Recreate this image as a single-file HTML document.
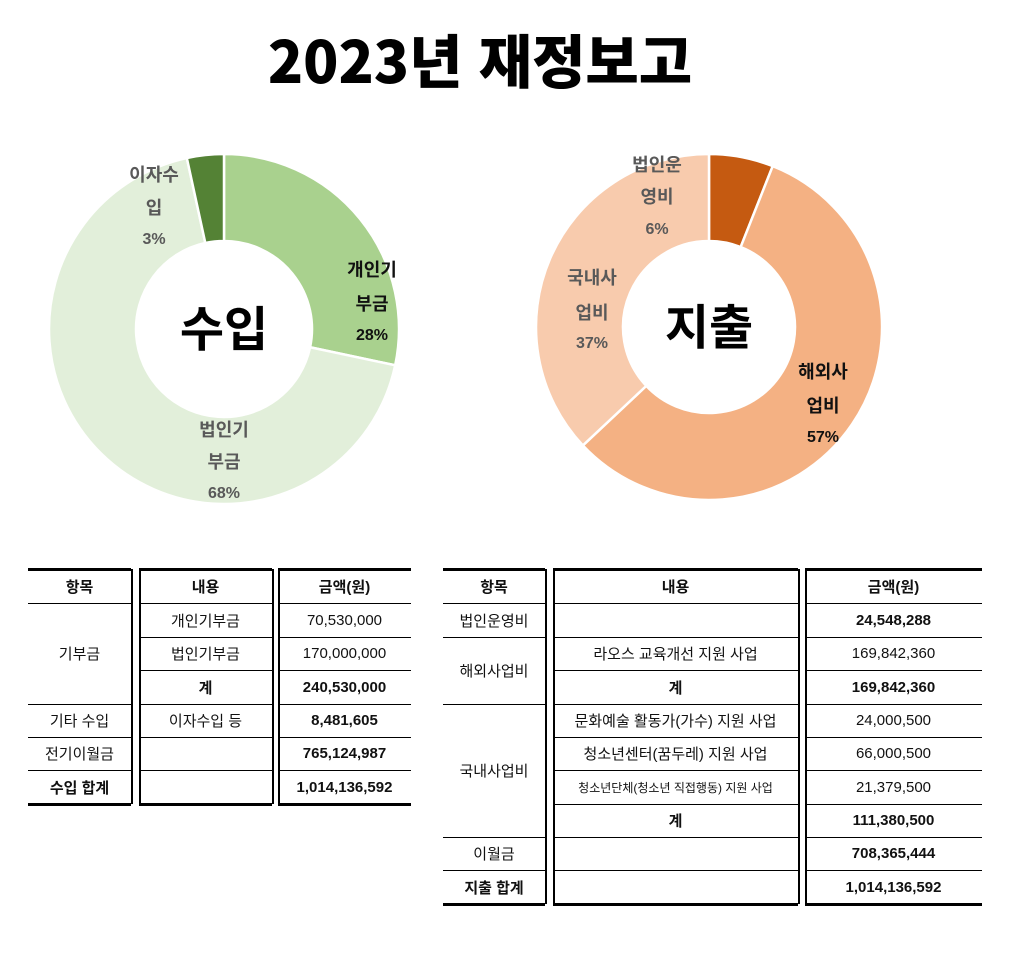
<!DOCTYPE html>
<html lang="ko"><head><meta charset="utf-8">
<style>
body{margin:0;width:1024px;height:959px;background:#fff;position:relative;overflow:hidden;font-family:"Liberation Sans","Noto Sans CJK KR",sans-serif;}
.t{position:absolute;white-space:nowrap;}
#title{left:0;width:960px;top:16px;text-align:center;font-size:58px;font-weight:900;letter-spacing:0px;color:#000;font-family:"Noto Sans CJK KR",sans-serif;}
.cell{position:absolute;display:flex;align-items:center;justify-content:center;font-size:15px;color:#111;}
.b{font-weight:bold;}
.ln{position:absolute;background:#000;}
</style></head><body>
<div id="title" class="t">2023년 재정보고</div>
<svg id="pies" width="1024" height="540" style="position:absolute;left:0;top:0"></svg>
<div id="tables"></div>
<script>
const incomeCats=["개인기부금","법인기부금","이자수입"];
const incomeVals=[70530000,170000000,8481605];
const expenseCats=["법인운영비","해외사업비","국내사업비"];
const expenseVals=[6,57,37];
const incomeColors=["#a9d18e","#e2efda","#548235"];
const expenseColors=["#c55a11","#f4b183","#f8cbad"];
const svg=document.getElementById('pies');
const NS="http://www.w3.org/2000/svg";
function donut(cx,cy,ro,ri,vals,cols,name,center){
  const tot=vals.reduce((a,b)=>a+b,0);let a0=-Math.PI/2;
  vals.forEach((v,i)=>{
    const a1=a0+v/tot*2*Math.PI;const lg=(a1-a0)>Math.PI?1:0;
    const p=(r,a)=>[cx+r*Math.cos(a),cy+r*Math.sin(a)];
    const [x0,y0]=p(ro,a0),[x1,y1]=p(ro,a1),[x2,y2]=p(ri,a1),[x3,y3]=p(ri,a0);
    const path=document.createElementNS(NS,'path');
    path.setAttribute('d',`M${x0},${y0}A${ro},${ro} 0 ${lg} 1 ${x1},${y1}L${x2},${y2}A${ri},${ri} 0 ${lg} 0 ${x3},${y3}Z`);
    path.setAttribute('fill',cols[i]);path.setAttribute('stroke','#fff');path.setAttribute('stroke-width','2.5');
    
    
    svg.appendChild(path);a0=a1;
  });
  const t=document.createElementNS(NS,'text');
  t.setAttribute('x',cx);t.setAttribute('y',cy+17);t.setAttribute('text-anchor','middle');
  t.setAttribute('font-size','48');t.setAttribute('font-weight','bold');t.setAttribute('font-family','"Noto Sans CJK KR",sans-serif');
  t.textContent=center;
  
  
  svg.appendChild(t);
}
donut(224,329,175,88,incomeVals,incomeColors,'income','수입');
donut(709,327,173,86,expenseVals,expenseColors,'expense','지출');
function pct(vals,i){const tot=vals.reduce((a,b)=>a+b,0);return Math.round(vals[i]/tot*100)+'%';}
const labels=[
 [372,[270,304,334],["개인기","부금",pct(incomeVals,0)],"#111"],
 [224,[430,462,492],["법인기","부금",pct(incomeVals,1)],"#595959"],
 [154,[175,208,238],["이자수","입",pct(incomeVals,2)],"#595959"],
 [657,[165,197,228],["법인운","영비",pct(expenseVals,0)],"#595959"],
 [592,[278,313,342],["국내사","업비",pct(expenseVals,2)],"#595959"],
 [823,[372,406,436],["해외사","업비",pct(expenseVals,1)],"#111"]];
labels.forEach((l,k)=>{l[2].forEach((s,j)=>{
  const t=document.createElementNS(NS,'text');
  t.setAttribute('x',l[0]);t.setAttribute('y',l[1][j]+6);t.setAttribute('text-anchor','middle');
  t.setAttribute('font-size',j==2?'16':'18');t.setAttribute('font-weight','bold');t.setAttribute('fill',l[3]);
  t.setAttribute('font-family','"Liberation Sans","Noto Sans CJK KR",sans-serif');
  t.textContent=s;
  
  
  svg.appendChild(t);});});

const T=document.getElementById('tables');
function line(x,y,w,h){const d=document.createElement('div');d.className='ln';d.style.cssText=`left:${x}px;top:${y}px;width:${w}px;height:${h}px`;
 
 
 T.appendChild(d);}
function cell(x,y,w,h,txt,bold,fs){const d=document.createElement('div');d.className='cell'+(bold?' b':'');
 d.style.cssText=`left:${x}px;top:${y}px;width:${w}px;height:${h}px`+(fs?`;font-size:${fs}px`:'');d.textContent=txt;
 
 
 T.appendChild(d);}
function table(cols,rowsY,cells,hlines){
  const top=rowsY[0],bot=rowsY[rowsY.length-1];
  cols.forEach(c=>{line(c[0],top-1,c[1]-c[0],3);line(c[0],bot-1,c[1]-c[0],3);});
  hlines.forEach(h=>{const c=cols[h[0]];line(c[0],rowsY[h[1]],c[1]-c[0],1);});
  line(cols[0][1],top,2,bot-top);line(cols[1][0],top,2,bot-top);line(cols[1][1],top,2,bot-top);line(cols[2][0],top,2,bot-top);
  cells.forEach(c=>{const co=cols[c[0]];cell(co[0],rowsY[c[1]],co[1]-co[0],rowsY[c[2]]-rowsY[c[1]],c[3],c[4],c[5]);});
}
const LY=[569,603,637,670,704,737,770,804];
table([[28,131],[139,272],[278,411]],LY,[
 [0,0,1,"항목",1],[1,0,1,"내용",1],[2,0,1,"금액(원)",1],
 [0,1,4,"기부금"],[1,1,2,"개인기부금"],[2,1,2,"70,530,000"],
 [1,2,3,"법인기부금"],[2,2,3,"170,000,000"],[1,3,4,"계",1],[2,3,4,"240,530,000",1],
 [0,4,5,"기타 수입"],[1,4,5,"이자수입 등"],[2,4,5,"8,481,605",1],
 [0,5,6,"전기이월금"],[2,5,6,"765,124,987",1],
 [0,6,7,"수입 합계",1],[2,6,7,"1,014,136,592",1]],
 [[0,1],[1,1],[2,1],[1,2],[2,2],[1,3],[2,3],[0,4],[1,4],[2,4],[0,5],[1,5],[2,5],[0,6],[1,6],[2,6]]);
const RY=[569,603,637,670,704,737,770,804,837,870,904];
table([[443,545],[553,798],[805,982]],RY,[
 [0,0,1,"항목",1],[1,0,1,"내용",1],[2,0,1,"금액(원)",1],
 [0,1,2,"법인운영비"],[2,1,2,"24,548,288",1],
 [0,2,4,"해외사업비"],[1,2,3,"라오스 교육개선 지원 사업"],[2,2,3,"169,842,360"],[1,3,4,"계",1],[2,3,4,"169,842,360",1],
 [0,4,8,"국내사업비"],[1,4,5,"문화예술 활동가(가수) 지원 사업"],[2,4,5,"24,000,500"],
 [1,5,6,"청소년센터(꿈두레) 지원 사업"],[2,5,6,"66,000,500"],
 [1,6,7,"청소년단체(청소년 직접행동) 지원 사업",0,12],[2,6,7,"21,379,500"],
 [1,7,8,"계",1],[2,7,8,"111,380,500",1],
 [0,8,9,"이월금"],[2,8,9,"708,365,444",1],
 [0,9,10,"지출 합계",1],[2,9,10,"1,014,136,592",1]],
 [[0,1],[1,1],[2,1],[0,2],[1,2],[2,2],[1,3],[2,3],[0,4],[1,4],[2,4],[1,5],[2,5],[1,6],[2,6],[1,7],[2,7],[0,8],[1,8],[2,8],[0,9],[1,9],[2,9]]);
</script>
</body></html>
